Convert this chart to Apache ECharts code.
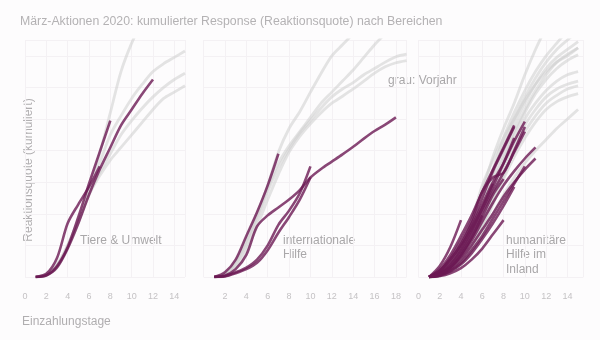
<!DOCTYPE html>
<html><head><meta charset="utf-8">
<script src="https://cdn.jsdelivr.net/npm/echarts@6/dist/echarts.min.js"></script>
<style>html,body{margin:0;padding:0;background:#fdfcfd}#c{width:600px;height:340px}</style>
</head><body><div id="c"></div>
<script>
// x = Einzahlungstag (day 1, 2, ...), y = kumulierte Reaktionsquote (relative units)
const panelTitles = ['Tiere & Umwelt', 'internationale\nHilfe', 'humanitäre\nHilfe im\nInland'];
const xTicks1 = [0, 2, 4, 6, 8, 10, 12, 14];
const xTicks2 = [2, 4, 6, 8, 10, 12, 14, 16, 18];
const xTicks3 = [0, 2, 4, 6, 8, 10, 12, 14];

// Panel 1: Tiere & Umwelt
const tiereVorjahr = [
  [0, 0.05, 0.3, 0.9, 1.7, 2.8, 3.9, 5.2, 6.5, 7.4, 8.1],
  [0, 0.05, 0.35, 1.0, 1.8, 2.7, 3.6, 4.5, 5.1, 5.65, 6.1, 6.5, 6.75, 6.95, 7.15],
  [0, 0.08, 0.35, 0.95, 1.75, 2.6, 3.3, 3.9, 4.5, 4.95, 5.35, 5.7, 6.0, 6.25, 6.45],
  [0, 0.1, 0.4, 1.0, 1.8, 2.6, 3.2, 3.7, 4.1, 4.5, 4.9, 5.3, 5.65, 5.85, 6.05]
];
const tiere2020 = [
  [0, 0.05, 0.35, 0.95, 1.9, 2.95, 3.95, 4.95],
  [0, 0.05, 0.3, 0.9, 1.7, 2.6, 3.4, 4.1, 4.8, 5.3, 5.8, 6.25],
  [0, 0.1, 0.6, 1.7, 2.3, 2.85, 3.5]
];

// Panel 2: internationale Hilfe
const intVorjahr = [
  [0, 0.1, 0.5, 1.2, 2.0, 2.9, 3.95, 4.7, 5.23, 5.85, 6.45, 7.0, 7.35, 7.7],
  [0, 0.08, 0.45, 1.1, 1.9, 2.8, 3.6, 4.15, 4.6, 5.05, 5.5, 5.85, 6.2, 6.55, 6.95, 7.35, 7.7],
  [0, 0.08, 0.4, 1.0, 1.8, 2.7, 3.45, 4.05, 4.55, 4.95, 5.35, 5.7, 5.95, 6.15, 6.4, 6.6, 6.8, 6.97, 7.05],
  [0, 0.05, 0.3, 0.85, 1.6, 2.45, 3.25, 3.95, 4.45, 4.85, 5.2, 5.5, 5.72, 5.95, 6.2, 6.45, 6.65, 6.78, 6.85]
];
const int2020 = [
  [0, 0.15, 0.55, 1.3, 2.05, 2.9, 3.9],
  [0, 0.05, 0.25, 0.7, 1.6, 1.95, 2.2, 2.45, 2.75, 3.15, 3.42, 3.65, 3.88, 4.12, 4.38, 4.62, 4.82, 5.05],
  [0, 0.03, 0.15, 0.3, 0.55, 1.0, 1.65, 2.1, 2.65, 3.5],
  [0, 0.02, 0.12, 0.25, 0.45, 0.85, 1.4, 1.9, 2.45, 3.15]
];

// Panel 3: humanitäre Hilfe im Inland
const humVorjahr = [
  [0, 0.1, 0.4, 0.9, 1.7, 2.7, 3.8, 4.7, 5.5, 6.4, 7.2, 7.9],
  [0, 0.08, 0.35, 0.8, 1.5, 2.4, 3.4, 4.4, 5.2, 5.9, 6.5, 7.0, 7.4, 7.8],
  [0, 0.07, 0.3, 0.75, 1.4, 2.3, 3.3, 4.2, 5.0, 5.7, 6.3, 6.8, 7.2, 7.5, 7.8],
  [0, 0.06, 0.3, 0.7, 1.3, 2.1, 3.1, 4.0, 4.8, 5.5, 6.1, 6.6, 6.95, 7.2, 7.45],
  [0, 0.05, 0.25, 0.65, 1.25, 2.0, 2.9, 3.8, 4.6, 5.3, 5.9, 6.4, 6.8, 7.05, 7.25],
  [0, 0.05, 0.25, 0.6, 1.15, 1.9, 2.8, 3.7, 4.5, 5.2, 5.8, 6.25, 6.6, 6.85, 7.03],
  [0, 0.05, 0.22, 0.55, 1.1, 1.8, 2.6, 3.5, 4.3, 5.0, 5.5, 5.9, 6.2, 6.4, 6.5],
  [0, 0.04, 0.2, 0.5, 1.0, 1.7, 2.5, 3.3, 4.1, 4.8, 5.3, 5.7, 5.95, 6.1, 6.2],
  [0, 0.04, 0.2, 0.5, 0.95, 1.6, 2.4, 3.2, 4.0, 4.6, 5.1, 5.5, 5.75, 5.95, 6.05],
  [0, 0.03, 0.18, 0.45, 0.9, 1.5, 2.3, 3.1, 3.8, 4.4, 4.9, 5.3, 5.55, 5.7, 5.8],
  [0, 0.03, 0.15, 0.4, 0.8, 1.35, 2.0, 2.6, 3.15, 3.6, 4.0, 4.35, 4.7, 5.0, 5.3],
  [0, 0.1, 0.4, 0.95, 1.8, 2.9, 3.7, 4.4, 5.0, 5.6, 6.1, 6.5, 6.8, 7.0, 7.25]
];
const hum2020 = [
  [0, 0.25, 0.7, 1.3, 1.95, 2.7, 3.4, 4.1, 4.8],
  [0, 0.2, 0.6, 1.15, 1.8, 2.7, 3.15, 3.3, 4.0, 4.75],
  [0, 0.15, 0.45, 0.95, 1.6, 2.3, 3.0, 3.6, 4.3, 4.92],
  [0, 0.1, 0.35, 0.8, 1.4, 2.05, 2.7, 3.3, 3.95, 4.6],
  [0, 0.08, 0.3, 0.65, 1.15, 1.75, 2.35, 2.9, 3.35, 3.75, 4.1],
  [0, 0.06, 0.25, 0.55, 1.0, 1.5, 2.0, 2.55, 3.0, 3.4, 3.75],
  [0, 0.05, 0.2, 0.45, 0.85, 1.3, 1.85, 2.4, 2.95, 3.5],
  [0, 0.05, 0.18, 0.4, 0.75, 1.2, 1.7, 2.25, 2.85],
  [0, 0.2, 0.55, 1.0, 1.55, 2.2, 2.95],
  [0, 0.35, 0.95, 1.8],
  [0, 0.03, 0.12, 0.28, 0.55, 0.9, 1.35, 1.8],
  [0, 0.12, 0.4, 0.85, 1.45, 2.15, 2.85, 3.6, 4.4],
  [0, 0.18, 0.55, 1.05, 1.7, 2.5, 3.35, 4.05, 4.75],
  [0, 0.1, 0.3, 0.7, 1.25, 1.9, 2.6, 3.1],
  [0, 0.08, 0.3, 0.7, 1.25, 1.95]
];

const panels = [
  { gray: tiereVorjahr, purple: tiere2020, xmax: 15, left: 25, width: 160, ticks: xTicks1 },
  { gray: intVorjahr, purple: int2020, xmax: 19, left: 203.6, width: 203, ticks: xTicks2 },
  { gray: humVorjahr, purple: hum2020, xmax: 15.5, left: 418.4, width: 165, ticks: xTicks3 }
];

const FONT = 'Liberation Sans, Arial, sans-serif';
const chart = echarts.init(document.getElementById('c'), null, { renderer: 'canvas' });
const grids = [], xAxes = [], yAxes = [], series = [];
const splitColor = '#f4f1f4';
panels.forEach((p, gi) => {
  grids.push({ left: p.left, width: p.width, top: 40, height: 237 });
  xAxes.push({
    type: 'value', gridIndex: gi, min: 0, max: p.xmax, interval: 2,
    axisLine: { show: false }, axisTick: { show: false },
    splitLine: { show: true, lineStyle: { color: splitColor, width: 1 } },
    axisLabel: {
      color: '#c4c2c4', fontSize: 9, margin: 15, fontFamily: FONT,
      formatter: v => (p.ticks.indexOf(v) >= 0 ? String(v) : '')
    }
  });
  yAxes.push({
    type: 'value', gridIndex: gi, min: 0, max: 7.5, interval: 1,
    axisLine: { show: false }, axisTick: { show: false }, axisLabel: { show: false },
    splitLine: { show: true, lineStyle: { color: splitColor, width: 1 } }
  });
  p.gray.forEach(vals => series.push({
    type: 'line', xAxisIndex: gi, yAxisIndex: gi, showSymbol: false, smooth: 0.3,
    data: vals.map((v, i) => [i + 1, v]), silent: true, z: 2,
    lineStyle: { color: '#cdcdcd', opacity: 0.55, width: 2.8 }
  }));
  p.purple.forEach(vals => series.push({
    type: 'line', xAxisIndex: gi, yAxisIndex: gi, showSymbol: false, smooth: 0.3,
    data: vals.map((v, i) => [i + 1, v]), silent: true, z: 3,
    lineStyle: { color: '#6c1954', opacity: 0.8, width: 2.6 }
  }));
});

const annot = (text, left, top) => ({
  type: 'text', silent: true, left, top,
  style: { text, fill: '#a9a7a9', fontSize: 12, fontFamily: FONT, lineHeight: 14.5 }
});

chart.setOption({
  backgroundColor: '#fdfcfd',
  animation: false,
  title: {
    text: 'März-Aktionen 2020: kumulierter Response (Reaktionsquote) nach Bereichen',
    left: 20, top: 16, padding: 0,
    textStyle: { color: '#b4b2b4', fontSize: 12.3, fontWeight: 'normal', fontFamily: FONT }
  },
  grid: grids, xAxis: xAxes, yAxis: yAxes, series,
  graphic: [
    annot(panelTitles[0], 80, 233),
    annot(panelTitles[1], 283, 233),
    annot(panelTitles[2], 506, 233),
    annot('grau: Vorjahr', 388, 73),
    { type: 'text', silent: true, x: 29, y: 170, rotation: Math.PI / 2,
      style: { text: 'Reaktionsquote (kumuliert)', fill: '#b0aeb0', fontSize: 12, fontFamily: FONT, textAlign: 'center', textVerticalAlign: 'middle' } },
    { type: 'text', silent: true, left: 22, top: 316,
      style: { text: 'Einzahlungstage', fill: '#b0aeb0', fontSize: 12, fontFamily: FONT } }
  ]
});
</script>
</body></html>
